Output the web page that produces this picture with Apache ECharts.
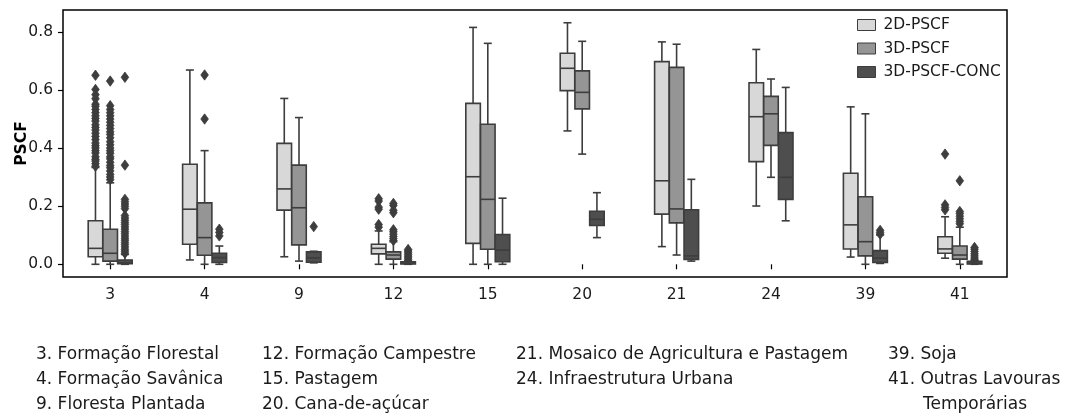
<!DOCTYPE html>
<html><head><meta charset="utf-8">
<script src="https://cdn.jsdelivr.net/npm/echarts@6/dist/echarts.min.js"></script>
<style>html,body{margin:0;padding:0;background:#fff}#c{width:1071px;height:414px}</style>
</head><body><div id="c"></div><script>
const categories = ['3','4','9','12','15','20','21','24','39','41'];
const seriesNames = ['2D-PSCF','3D-PSCF','3D-PSCF-CONC'];
const yTicks = [0, 0.2, 0.4, 0.6, 0.8];

// box stats per category: [low whisker, Q1, median, Q3, high whisker]
const box2D = [
  [0.0, 0.026, 0.055, 0.150, 0.334],
  [0.015, 0.069, 0.190, 0.345, 0.670],
  [0.026, 0.187, 0.260, 0.417, 0.572],
  [0.0, 0.036, 0.055, 0.069, 0.115],
  [0.0, 0.072, 0.302, 0.555, 0.817],
  [0.460, 0.599, 0.676, 0.728, 0.833],
  [0.061, 0.173, 0.288, 0.699, 0.767],
  [0.201, 0.354, 0.509, 0.626, 0.741],
  [0.025, 0.053, 0.136, 0.314, 0.543],
  [0.021, 0.038, 0.053, 0.095, 0.164]
];
const box3D = [
  [0.0, 0.011, 0.038, 0.121, 0.281],
  [0.0, 0.031, 0.092, 0.212, 0.392],
  [0.011, 0.067, 0.195, 0.342, 0.506],
  [0.0, 0.018, 0.032, 0.043, 0.078],
  [0.0, 0.052, 0.224, 0.483, 0.762],
  [0.380, 0.536, 0.593, 0.667, 0.769],
  [0.032, 0.143, 0.191, 0.679, 0.759],
  [0.300, 0.410, 0.519, 0.579, 0.639],
  [0.0, 0.029, 0.078, 0.233, 0.519],
  [0.0, 0.018, 0.032, 0.063, 0.128]
];
const boxConc = [
  [0.0, 0.002, 0.005, 0.015, 0.034],
  [0.0, 0.006, 0.023, 0.038, 0.063],
  [0.005, 0.007, 0.022, 0.043, 0.045],
  [0.0, 0.001, 0.003, 0.009, 0.012],
  [0.0, 0.009, 0.049, 0.103, 0.228],
  [0.092, 0.134, 0.155, 0.183, 0.247],
  [0.011, 0.017, 0.029, 0.188, 0.293],
  [0.150, 0.224, 0.300, 0.454, 0.610],
  [0.003, 0.006, 0.021, 0.047, 0.101],
  [0.0, 0.001, 0.003, 0.010, 0.012]
];

// outliers per category
const out2D = [
  [0.338,0.347,0.356,0.362,0.371,0.384,0.392,0.401,0.409,0.418,0.430,0.441,0.452,0.463,0.472,0.481,0.494,0.503,0.512,0.523,0.534,0.545,0.552,0.571,0.585,0.603,0.652],
  [],
  [],
  [0.128,0.137,0.190,0.197,0.218,0.226],
  [], [], [], [],
  [],
  [0.188,0.196,0.205,0.380]
];
const out3D = [
  [0.292,0.301,0.310,0.322,0.333,0.341,0.352,0.364,0.371,0.383,0.392,0.401,0.412,0.423,0.436,0.448,0.457,0.468,0.479,0.490,0.501,0.512,0.523,0.534,0.547,0.632],
  [0.501,0.653],
  [],
  [0.082,0.089,0.096,0.104,0.112,0.119,0.178,0.186,0.203,0.210],
  [], [], [], [],
  [],
  [0.140,0.148,0.157,0.166,0.175,0.182,0.288]
];
const outConc = [
  [0.038,0.045,0.052,0.060,0.068,0.075,0.083,0.090,0.098,0.106,0.113,0.121,0.129,0.137,0.144,0.152,0.160,0.168,0.192,0.200,0.208,0.216,0.224,0.342,0.645],
  [0.098,0.110,0.121],
  [0.130],
  [0.016,0.022,0.028,0.034,0.040,0.046,0.051],
  [], [], [], [],
  [0.104,0.110,0.117],
  [0.016,0.022,0.029,0.036,0.044,0.052,0.058]
];

const bottomCols = [
  ['3. Formação Florestal','4. Formação Savânica','9. Floresta Plantada'],
  ['12. Formação Campestre','15. Pastagem','20. Cana-de-açúcar'],
  ['21. Mosaico de Agricultura e Pastagem','24. Infraestrutura Urbana'],
  ['39. Soja','41. Outras Lavouras','    Temporárias']
];

const FILLS = ['#d8d8d8','#959595','#4e4e4e'];
const EDGE = '#3d3d3d';
const OFFSETS = [-0.156, 0, 0.156];
const BOXW = 0.154, CAPW = 0.085;
const FONT = 'DejaVu Sans';

function boxRender(k){
  return function(params, api){
    const cat = api.value(0);
    const band = api.size([1,0])[0];
    const cx = api.coord([cat, 0])[0] + OFFSETS[k]*band;
    const w = BOXW*band, cw = CAPW*band;
    const y = i => api.coord([cat, api.value(i)])[1];
    const yl=y(1), yq1=y(2), ym=y(3), yq3=y(4), yh=y(5);
    const st = {stroke: EDGE, lineWidth: 1.6};
    return {type:'group', children:[
      {type:'line', shape:{x1:cx,y1:yq3,x2:cx,y2:yh}, style:st},
      {type:'line', shape:{x1:cx,y1:yq1,x2:cx,y2:yl}, style:st},
      {type:'line', shape:{x1:cx-cw/2,y1:yh,x2:cx+cw/2,y2:yh}, style:st},
      {type:'line', shape:{x1:cx-cw/2,y1:yl,x2:cx+cw/2,y2:yl}, style:st},
      {type:'rect', shape:{x:cx-w/2,y:yq3,width:w,height:Math.max(yq1-yq3,0.5)}, style:{fill:FILLS[k], stroke:EDGE, lineWidth:1.6}},
      {type:'line', shape:{x1:cx-w/2,y1:ym,x2:cx+w/2,y2:ym}, style:st}
    ]};
  };
}
function outRender(k){
  return function(params, api){
    const cat = api.value(0);
    const band = api.size([1,0])[0];
    const p = api.coord([cat, api.value(1)]);
    const cx = p[0] + OFFSETS[k]*band, cy = p[1];
    return {type:'polygon', shape:{points:[[cx,cy-5.2],[cx+3.8,cy],[cx,cy+5.2],[cx-3.8,cy]]},
      style:{fill:EDGE, stroke:EDGE, lineWidth:0.8}};
  };
}

const boxes = [box2D, box3D, boxConc];
const outs = [out2D, out3D, outConc];
const series = [];
boxes.forEach((b,k)=>{
  series.push({
    type:'custom', name: seriesNames[k], itemStyle:{color:FILLS[k]},
    renderItem: boxRender(k),
    encode:{x:0, y:[1,2,3,4,5]},
    data: b.map((r,i)=>[i].concat(r)), z:2
  });
});
outs.forEach((o,k)=>{
  const d = [];
  o.forEach((arr,i)=>arr.forEach(v=>d.push([i,v])));
  series.push({
    type:'custom', name: seriesNames[k]+' outliers', itemStyle:{color:EDGE},
    renderItem: outRender(k), encode:{x:0,y:1}, data:d, z:3
  });
});

const graphics = [];
const colX = [36, 262, 516, 888];
const rowY = [353, 378, 403];
bottomCols.forEach((col,c)=>col.forEach((t,r)=>{
  graphics.push({type:'text', left: colX[c] + (t.startsWith('    ') ? 35 : 0), top: rowY[r]-7,
    style:{text:t.trim(), font:'17px "DejaVu Sans"', fill:'#1a1a1a'}});
}));

const chart = echarts.init(document.getElementById('c'), null, {renderer:'canvas'});
chart.setOption({
  animation:false,
  backgroundColor:'#fff',
  grid:{left:63, right:64, top:10, bottom:137, containLabel:false, outerBoundsMode:'none',
    show:true, borderColor:'#000', borderWidth:1.5, backgroundColor:'transparent'},
  legend:{
    data: seriesNames, orient:'vertical', left:852, top:12,
    itemWidth:18, itemHeight:11, itemGap:7.5, icon:'rect',
    itemStyle:{borderColor:EDGE, borderWidth:1},
    textStyle:{fontFamily:FONT, fontSize:15.5, color:'#1a1a1a', padding:[0,0,0,3]}
  },
  xAxis:{
    type:'category', data:categories, boundaryGap:true,
    axisLine:{show:false}, splitLine:{show:false},
    axisTick:{show:true, alignWithLabel:true, length:5, lineStyle:{color:'#000', width:1.2}},
    axisLabel:{fontFamily:FONT, fontSize:15.5, color:'#1a1a1a', margin:10}
  },
  yAxis:{
    type:'value', min:-0.0438, max:0.877,
    name:'PSCF', nameLocation:'middle', nameRotate:90, nameGap:33, nameMoveOverlap:false,
    nameTextStyle:{fontFamily:FONT, fontSize:15.5, fontWeight:'bold', color:'#000'},
    axisLine:{show:false}, splitLine:{show:false},
    axisTick:{show:true, length:5, customValues:yTicks, lineStyle:{color:'#000', width:1.2}},
    axisLabel:{fontFamily:FONT, fontSize:15.5, color:'#1a1a1a', margin:10, customValues:yTicks,
      formatter:v=>v.toFixed(1)}
  },
  graphic: graphics,
  series: series
});
</script></body></html>
